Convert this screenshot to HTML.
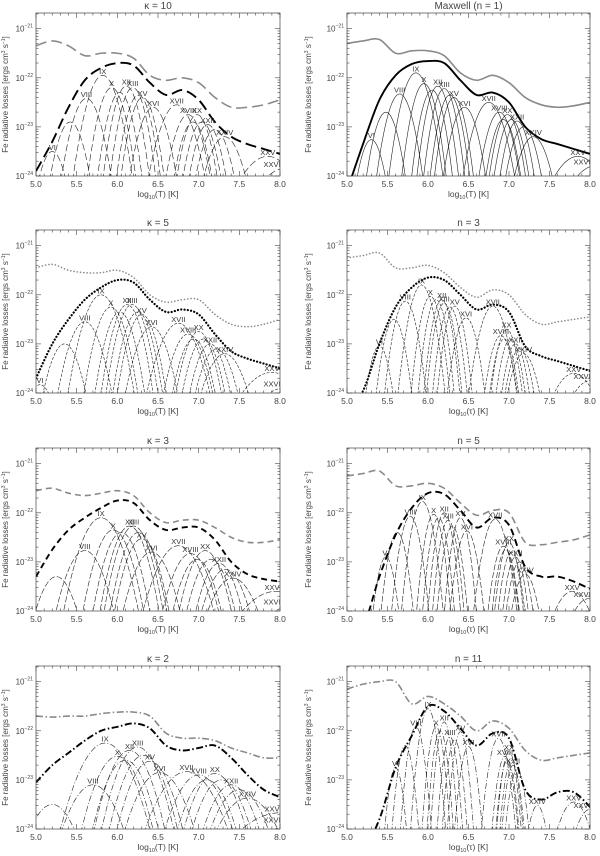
<!DOCTYPE html>
<html><head><meta charset="utf-8">
<style>
html,body{margin:0;padding:0;background:#fff;width:600px;height:856px;overflow:hidden;}
svg{display:block;font-family:"Liberation Sans",sans-serif;}
</style></head>
<body>
<svg id="fig" width="600" height="856" viewBox="0 0 600 856" xmlns="http://www.w3.org/2000/svg"></svg>
<script>
// ---- data ----
const ionNames = ["VI","VII","VIII","IX","X","XI","XII","XIII","XIV","XV","XVI","XVII","XVIII","XIX","XX","XXI","XXII","XXIII","XXIV","XXV","XXVI"];
const labeledIons = [0,2,3,4,6,7,9,10,11,12,14,16,18,19,20];
const baseWidths = [0.2,0.21,0.22,0.23,0.2,0.19,0.19,0.19,0.19,0.19,0.22,0.26,0.22,0.2,0.2,0.2,0.2,0.22,0.26,0.45,0.45];
const gridT = [5.0,5.2,5.4,5.6,5.8,6.0,6.2,6.4,6.6,6.8,7.0,7.2,7.4,7.6,7.8,8.0];
const xTicks = [5.0,5.5,6.0,6.5,7.0,7.5,8.0];
const xTickLabels = ["5.0","5.5","6.0","6.5","7.0","7.5","8.0"];
const yTicks = [-24,-23,-22,-21];

const titles = ["κ = 10","Maxwell (n = 1)","κ = 5","n = 3","κ = 3","n = 5","κ = 2","n = 11"];

const tempsK10 = [5.20,5.42,5.62,5.82,5.93,6.03,6.11,6.19,6.26,6.31,6.44,6.73,6.87,6.93,6.98,7.04,7.11,7.2,7.32,7.85,8.05];
const tempsM   = [5.30,5.48,5.65,5.85,5.95,6.05,6.12,6.20,6.27,6.32,6.45,6.75,6.88,6.93,6.98,7.03,7.10,7.18,7.30,7.85,8.05];
const tempsK5  = [5.05,5.35,5.60,5.80,5.92,6.03,6.12,6.18,6.25,6.30,6.42,6.75,6.87,6.94,7.00,7.06,7.14,7.22,7.32,7.90,8.05];
const tempsN3  = [5.40,5.58,5.72,5.92,6.03,6.10,6.17,6.20,6.27,6.33,6.47,6.80,6.90,6.94,6.97,7.02,7.08,7.13,7.18,7.80,8.00];
const tempsK3  = [4.95,5.25,5.60,5.80,5.95,6.05,6.15,6.20,6.26,6.30,6.42,6.75,6.90,6.98,7.08,7.15,7.25,7.33,7.42,7.95,8.15];
const tempsN5  = [5.48,5.62,5.78,5.93,6.07,6.13,6.20,6.25,6.30,6.40,6.48,6.83,6.93,6.96,7.00,7.03,7.08,7.13,7.20,7.78,7.98];
const tempsK2  = [4.9,5.2,5.70,5.85,6.00,6.10,6.15,6.25,6.32,6.40,6.52,6.85,7.00,7.10,7.20,7.28,7.40,7.5,7.6,8.0,8.2];
const tempsN11 = [5.60,5.72,5.85,6.00,6.10,6.15,6.20,6.27,6.33,6.40,6.50,6.87,6.95,6.98,7.00,7.03,7.05,7.10,7.35,7.80,8.00];

const peaksK10 = [-23.5,-22.9,-22.42,-21.95,-22.2,-22.3,-22.17,-22.2,-22.35,-22.4,-22.6,-22.55,-22.75,-22.9,-22.75,-22.9,-22.95,-23.05,-23.2,-23.6,-23.85];
const peaksM   = [-23.26,-22.7,-22.33,-21.9,-22.12,-22.25,-22.17,-22.22,-22.35,-22.4,-22.6,-22.5,-22.7,-22.85,-22.75,-22.85,-22.88,-23.0,-23.2,-23.6,-23.8];
const peaksK5  = [-23.83,-23.0,-22.55,-22.0,-22.25,-22.35,-22.2,-22.2,-22.35,-22.4,-22.65,-22.58,-22.8,-22.9,-22.75,-22.9,-23.0,-23.1,-23.2,-23.58,-23.9];
const peaksN3  = [-23.04,-22.5,-22.13,-21.8,-22.03,-22.1,-22.1,-22.17,-22.25,-22.23,-22.47,-22.23,-22.83,-22.9,-22.7,-22.9,-23.0,-23.1,-23.2,-23.6,-23.75];
const peaksK3  = [-24.1,-23.3,-22.77,-22.1,-22.35,-22.4,-22.27,-22.27,-22.4,-22.53,-22.8,-22.67,-22.83,-22.95,-22.77,-22.95,-23.03,-23.15,-23.33,-23.6,-23.9];
const peaksN5  = [-22.9,-22.4,-22.07,-21.77,-22.03,-22.1,-22.0,-22.15,-22.27,-22.1,-22.37,-22.13,-22.68,-22.75,-22.6,-22.8,-22.9,-23.0,-23.25,-23.6,-23.75];
const peaksK2  = [-24.2,-23.5,-23.1,-22.25,-22.52,-22.6,-22.4,-22.33,-22.5,-22.62,-22.85,-22.83,-22.9,-23.0,-22.87,-23.0,-23.1,-23.2,-23.37,-23.67,-23.9];
const peaksN11 = [-22.75,-22.3,-21.92,-21.55,-21.92,-22.0,-21.82,-22.12,-22.18,-22.02,-22.32,-22.15,-22.52,-22.6,-22.42,-22.6,-22.7,-22.8,-23.52,-23.45,-23.6];

const totalK10 = [-23.9,-23.3,-22.6,-22.05,-21.8,-21.7,-21.75,-22.1,-22.35,-22.25,-22.45,-22.9,-23.2,-23.35,-23.45,-23.55];
const totalM   = [-24.3,-23.34,-22.45,-21.95,-21.72,-21.66,-21.7,-22.05,-22.35,-22.3,-22.5,-23.0,-23.25,-23.35,-23.45,-23.55];
const totalK5  = [-23.7,-23.0,-22.5,-22.1,-21.85,-21.7,-21.75,-22.1,-22.35,-22.3,-22.4,-22.8,-23.15,-23.3,-23.4,-23.5];
const totalN3  = [-25,-23.95,-23.0,-22.25,-21.85,-21.65,-21.7,-22.0,-22.3,-22.2,-22.35,-23.05,-23.25,-23.35,-23.45,-23.55];
const totalK3  = [-23.3,-22.75,-22.35,-22.1,-21.9,-21.75,-21.8,-22.15,-22.35,-22.3,-22.3,-22.55,-23.0,-23.25,-23.35,-23.4];
const totalN5  = [-25,-24.3,-23.3,-22.45,-21.9,-21.6,-21.62,-21.95,-22.3,-22.1,-22.25,-23.1,-23.3,-23.3,-23.4,-23.55];
const totalK2  = [-23.05,-22.7,-22.45,-22.2,-22.0,-21.92,-21.85,-21.95,-22.3,-22.4,-22.35,-22.3,-22.55,-22.9,-23.2,-23.35];
const totalN11 = [-25,-25,-23.8,-22.75,-22.1,-21.5,-21.6,-21.95,-22.3,-22.05,-22.15,-23.2,-23.4,-23.25,-23.25,-23.55];

const greyK10 = [-21.35,-21.25,-21.35,-21.55,-21.5,-21.5,-21.6,-21.95,-22.05,-22.0,-22.1,-22.4,-22.6,-22.6,-22.55,-22.45];
const greyM   = [-21.3,-21.25,-21.22,-21.5,-21.45,-21.45,-21.55,-21.9,-22.05,-21.95,-22.1,-22.4,-22.55,-22.6,-22.57,-22.5];
const greyK5  = [-21.45,-21.38,-21.5,-21.55,-21.55,-21.5,-21.65,-22.0,-22.15,-22.1,-22.1,-22.4,-22.6,-22.65,-22.6,-22.5];
const greyN3  = [-21.25,-21.2,-21.15,-21.45,-21.45,-21.4,-21.55,-21.85,-22.05,-21.9,-22.0,-22.4,-22.6,-22.55,-22.5,-22.45];
const greyK3  = [-21.55,-21.5,-21.6,-21.65,-21.6,-21.55,-21.65,-22.0,-22.2,-22.15,-22.15,-22.3,-22.5,-22.6,-22.6,-22.55];
const greyN5  = [-21.25,-21.2,-21.15,-21.45,-21.45,-21.4,-21.5,-21.8,-22.05,-21.95,-22.0,-22.6,-22.65,-22.6,-22.55,-22.45];
const greyK2  = [-21.7,-21.72,-21.7,-21.7,-21.65,-21.62,-21.62,-21.7,-22.05,-22.15,-22.15,-22.2,-22.35,-22.45,-22.55,-22.55];
const greyN11 = [-21.15,-21.05,-21.0,-21.0,-21.45,-21.3,-21.45,-21.7,-22.0,-21.8,-21.95,-22.4,-22.6,-22.55,-22.5,-22.45];

const panels = [
  {temps:tempsK10,peaks:peaksK10,total:totalK10,grey:greyK10,ws:1.1,dashT:"11,5",dashI:"7,3",capT:"butt",xl:"T"},
  {temps:tempsM,peaks:peaksM,total:totalM,grey:greyM,ws:1.0,dashT:"",dashI:"",capT:"butt",xl:"T"},
  {temps:tempsK5,peaks:peaksK5,total:totalK5,grey:greyK5,ws:1.25,dashT:"0.1,3.2",dashI:"3,1.5",capT:"round",xl:"T"},
  {temps:tempsN3,peaks:peaksN3,total:totalN3,grey:greyN3,ws:0.85,dashT:"0.1,3.2",dashI:"3,1.5",capT:"round",xl:"τ"},
  {temps:tempsK3,peaks:peaksK3,total:totalK3,grey:greyK3,ws:1.45,dashT:"6,4",dashI:"6,2",capT:"butt",xl:"T"},
  {temps:tempsN5,peaks:peaksN5,total:totalN5,grey:greyN5,ws:0.75,dashT:"7,4",dashI:"6,2",capT:"butt",xl:"τ"},
  {temps:tempsK2,peaks:peaksK2,total:totalK2,grey:greyK2,ws:1.8,dashT:"7,2.5,1.5,2.5",dashI:"6,2,1,2",capT:"butt",xl:"T"},
  {temps:tempsN11,peaks:peaksN11,total:totalN11,grey:greyN11,ws:0.6,dashT:"7,2.5,1.5,2.5",dashI:"6,2,1,2",capT:"butt",xl:"τ"}
];

// ---- layout ----
const NS = "http://www.w3.org/2000/svg";
const svg = document.getElementById("fig");
const rowOff = [0,217,435,653];
const colX = [[36,280],[347,590]];
const boxTop = 13, boxBot = 176, decade = 49.1;
const FLOOR = -24.3;

function el(tag, attrs, parent){
  const e = document.createElementNS(NS, tag);
  for (const k in attrs) e.setAttribute(k, attrs[k]);
  (parent||svg).appendChild(e);
  return e;
}
function catmull(pts){
  let d = "M"+pts[0][0].toFixed(2)+","+pts[0][1].toFixed(2);
  for (let i=0;i<pts.length-1;i++){
    const p0=pts[Math.max(0,i-1)],p1=pts[i],p2=pts[i+1],p3=pts[Math.min(pts.length-1,i+2)];
    const c1=[p1[0]+(p2[0]-p0[0])/6,p1[1]+(p2[1]-p0[1])/6];
    const c2=[p2[0]-(p3[0]-p1[0])/6,p2[1]-(p3[1]-p1[1])/6];
    d+="C"+c1[0].toFixed(2)+","+c1[1].toFixed(2)+" "+c2[0].toFixed(2)+","+c2[1].toFixed(2)+" "+p2[0].toFixed(2)+","+p2[1].toFixed(2);
  }
  return d;
}

panels.forEach((p, idx) => {
  const col = idx % 2, row = Math.floor(idx/2);
  const off = rowOff[row];
  const x0 = colX[col][0], x1 = colX[col][1];
  const y0 = boxTop + off, y1 = boxBot + off;
  const xs = t => x0 + (t-5)/3*(x1-x0);
  const ys = v => y1 - (v+24)*decade;
  const ysc = v => ys(Math.max(v, -24.4));

  const g = el("g", {});
  
  

  const clipId = "clip"+idx;
  const cp = el("clipPath", {id:clipId}, g);
  el("rect", {x:x0, y:y0, width:x1-x0, height:y1-y0}, cp);
  const plot = el("g", {"clip-path":"url(#"+clipId+")"}, g);

  p.temps.forEach((t0, i) => {
    const w = baseWidths[i]*p.ws;
    const depth = p.peaks[i] - FLOOR;
    if (depth <= 0) return;
    const half = w*Math.sqrt(depth);
    const lo = Math.max(t0-half, 4.95), hi = Math.min(t0+half, 8.05);
    const n = Math.max(2, Math.ceil((hi-lo)/0.01));
    const pts = [];
    for (let k=0; k<=n; k++){
      const t = lo + (hi-lo)*k/n;
      const v = p.peaks[i] - Math.pow((t-t0)/w, 2);
      pts.push([xs(t), ysc(v)]);
    }
    if (hi <= lo) return;
    const path = el("path", {d:catmull(pts), fill:"none", stroke:"#222", "stroke-width":0.6, "stroke-dasharray":p.dashI}, plot);
    
    
  });

  const gp = el("path", {d:catmull(gridT.map((t,i)=>[xs(t), ysc(p.grey[i])])), fill:"none", stroke:"#8a8a8a", "stroke-width":1.6, "stroke-dasharray":p.dashT, "stroke-linecap":p.capT}, plot);
  
  
  const bp = el("path", {d:catmull(gridT.map((t,i)=>[xs(t), ysc(p.total[i])])), fill:"none", stroke:"#000", "stroke-width":p.capT==="round"?2.2:1.9, "stroke-dasharray":p.dashT, "stroke-linecap":p.capT}, plot);
  
  

  labeledIons.forEach(i => {
    const t = p.temps[i], v = p.peaks[i];
    if (t < 5.0 || v < -24.1) return;
    let tx = xs(t); if (tx > x1-8) tx = x1-8;
    const lb = el("text", {x:tx, y:ys(v)-1.5, "font-size":7.5, "text-anchor":"middle", fill:"#333"}, g);
    lb.textContent = ionNames[i];
    
    
  });

  const fr = el("rect", {x:x0, y:y0, width:x1-x0, height:y1-y0, fill:"none", stroke:"#444", "stroke-width":0.7}, g);
  
  

  for (let t=5.0; t<=8.0001; t+=0.1){
    const major = Math.abs(t*2 - Math.round(t*2)) < 1e-6;
    const L = major ? 5 : 2.5;
    el("line", {x1:xs(t), x2:xs(t), y1:y1, y2:y1-L, stroke:"#444", "stroke-width":0.6}, g);
    el("line", {x1:xs(t), x2:xs(t), y1:y0, y2:y0+L, stroke:"#444", "stroke-width":0.6}, g);
  }
  xTicks.forEach((t,i) => {
    const tl = el("text", {x:xs(t), y:y1+11, "font-size":8.5, "text-anchor":"middle", fill:"#444"}, g);
    tl.textContent = xTickLabels[i];
    
    
  });
  for (let d=-24; d<-20; d++){
    for (let m=1; m<=9; m++){
      const v = d + Math.log10(m);
      if (v > -20.68) break;
      const L = m===1 ? 5 : 2.5;
      el("line", {x1:x0, x2:x0+L, y1:ys(v), y2:ys(v), stroke:"#444", "stroke-width":0.6}, g);
      el("line", {x1:x1, x2:x1-L, y1:ys(v), y2:ys(v), stroke:"#444", "stroke-width":0.6}, g);
    }
  }
  yTicks.forEach(v => {
    const tl = el("text", {x:x0-3, y:ys(v)+3, "font-size":8, "text-anchor":"end", fill:"#444"}, g);
    const a = el("tspan", {}, tl); a.textContent = "10";
    const b = el("tspan", {"font-size":5, dy:-4}, tl); b.textContent = "−"+(-v);
    
    
  });

  const ti = el("text", {x:(x0+x1)/2, y:off+9, "font-size":10, "text-anchor":"middle", fill:"#444"}, g);
  ti.textContent = titles[idx];
  
  

  const xl = el("text", {x:(x0+x1)/2, y:y1+21, "font-size":8.5, "text-anchor":"middle", fill:"#444"}, g);
  const xa = el("tspan", {}, xl); xa.textContent = "log";
  const xb = el("tspan", {"font-size":5.5, dy:2}, xl); xb.textContent = "10";
  const xc = el("tspan", {dy:-2}, xl); xc.textContent = "("+p.xl+") [K]";
  
  

  const lx = col===0 ? 8 : 311, ly = (y0+y1)/2;
  const yl = el("text", {x:lx, y:ly, "font-size":8, "text-anchor":"middle", fill:"#444", transform:"rotate(-90 "+lx+" "+ly+")"}, g);
  const ya = el("tspan", {}, yl); ya.textContent = "Fe radiative losses [ergs cm";
  const yb = el("tspan", {"font-size":5, dy:-3}, yl); yb.textContent = "3";
  const yc = el("tspan", {dy:3}, yl); yc.textContent = " s";
  const yd = el("tspan", {"font-size":5, dy:-3}, yl); yd.textContent = "−1";
  const ye = el("tspan", {dy:3}, yl); ye.textContent = "]";
  
  
});
</script>
</body></html>
